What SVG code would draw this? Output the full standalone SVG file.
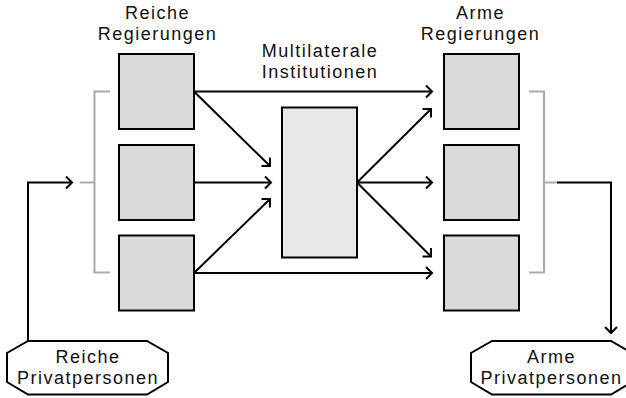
<svg xmlns="http://www.w3.org/2000/svg" width="626" height="398" viewBox="0 0 626 398">
<defs>
<style>
.box{fill:#d9d9d9;stroke:#000;stroke-width:2}
.inst{fill:#e8e8e8;stroke:#000;stroke-width:2}
.oct{fill:#fff;stroke:#000;stroke-width:2}
.c{fill:none;stroke:#000;stroke-width:2}
.g{fill:none;stroke:#aaa;stroke-width:2}
.a{marker-end:url(#ah)}
text{font-family:"Liberation Sans",Arial,sans-serif;font-size:18px;letter-spacing:1.5px;fill:#111;text-anchor:middle}
</style>
<marker id="ah" markerUnits="userSpaceOnUse" viewBox="0 0 12 14" refX="8" refY="7" markerWidth="12" markerHeight="14" orient="auto">
<path d="M2,1 L8,7 L2,13" fill="none" stroke="#000" stroke-width="2"/>
</marker>
</defs>
<rect width="626" height="398" fill="#fff"/>
<g id="connectors">
<path class="g" d="M110,91.5 H94.5 V272.5 H110 M80,182.5 H94.5"/>
<path class="g" d="M529,91.5 H544 V272.5 H529 M544,182.5 H557"/>
<path class="c a" d="M28,341 V182.5 H72"/>
<path class="c a" d="M557,182.5 H611 V333"/>
<path class="c a" d="M194,91.5 H432"/>
<path class="c a" d="M194,91.5 L270,166"/>
<path class="c a" d="M194,182.5 H271"/>
<path class="c a" d="M194,273 L270,199"/>
<path class="c a" d="M194,273 H432"/>
<path class="c a" d="M357,182.5 L431,109"/>
<path class="c a" d="M357,182.5 H432"/>
<path class="c a" d="M357,182.5 L431,256.5"/>
</g>
<g id="reiche-regierungen-label"><text x="157.5" y="18.5">Reiche</text><text x="157.5" y="39.5">Regierungen</text></g>
<g id="reiche-regierung-1"><rect class="box" x="119" y="54" width="75" height="75"/></g>
<g id="reiche-regierung-2"><rect class="box" x="119" y="145" width="75" height="75"/></g>
<g id="reiche-regierung-3"><rect class="box" x="119" y="235.5" width="75" height="75"/></g>
<g id="multilaterale-institutionen"><text x="320" y="57">Multilaterale</text><text x="320" y="77.5">Institutionen</text><rect class="inst" x="282" y="107.5" width="75" height="150"/></g>
<g id="arme-regierungen-label"><text x="480.5" y="18.5">Arme</text><text x="480.5" y="39.5">Regierungen</text></g>
<g id="arme-regierung-1"><rect class="box" x="444" y="54" width="75" height="75"/></g>
<g id="arme-regierung-2"><rect class="box" x="444" y="145" width="75" height="75"/></g>
<g id="arme-regierung-3"><rect class="box" x="444" y="235.5" width="75" height="75"/></g>
<g id="reiche-privatpersonen"><polygon class="oct" points="28,341 147,341 168,353 168,382 147,394.5 28,394.5 7,382 7,353"/><text x="88" y="363">Reiche</text><text x="88" y="383.5">Privatpersonen</text></g>
<g id="arme-privatpersonen"><polygon class="oct" points="492,341 611,341 632,353 632,382 611,394.5 492,394.5 471,382 471,353"/><text x="551.5" y="363">Arme</text><text x="551.5" y="383.5">Privatpersonen</text></g>
</svg>
